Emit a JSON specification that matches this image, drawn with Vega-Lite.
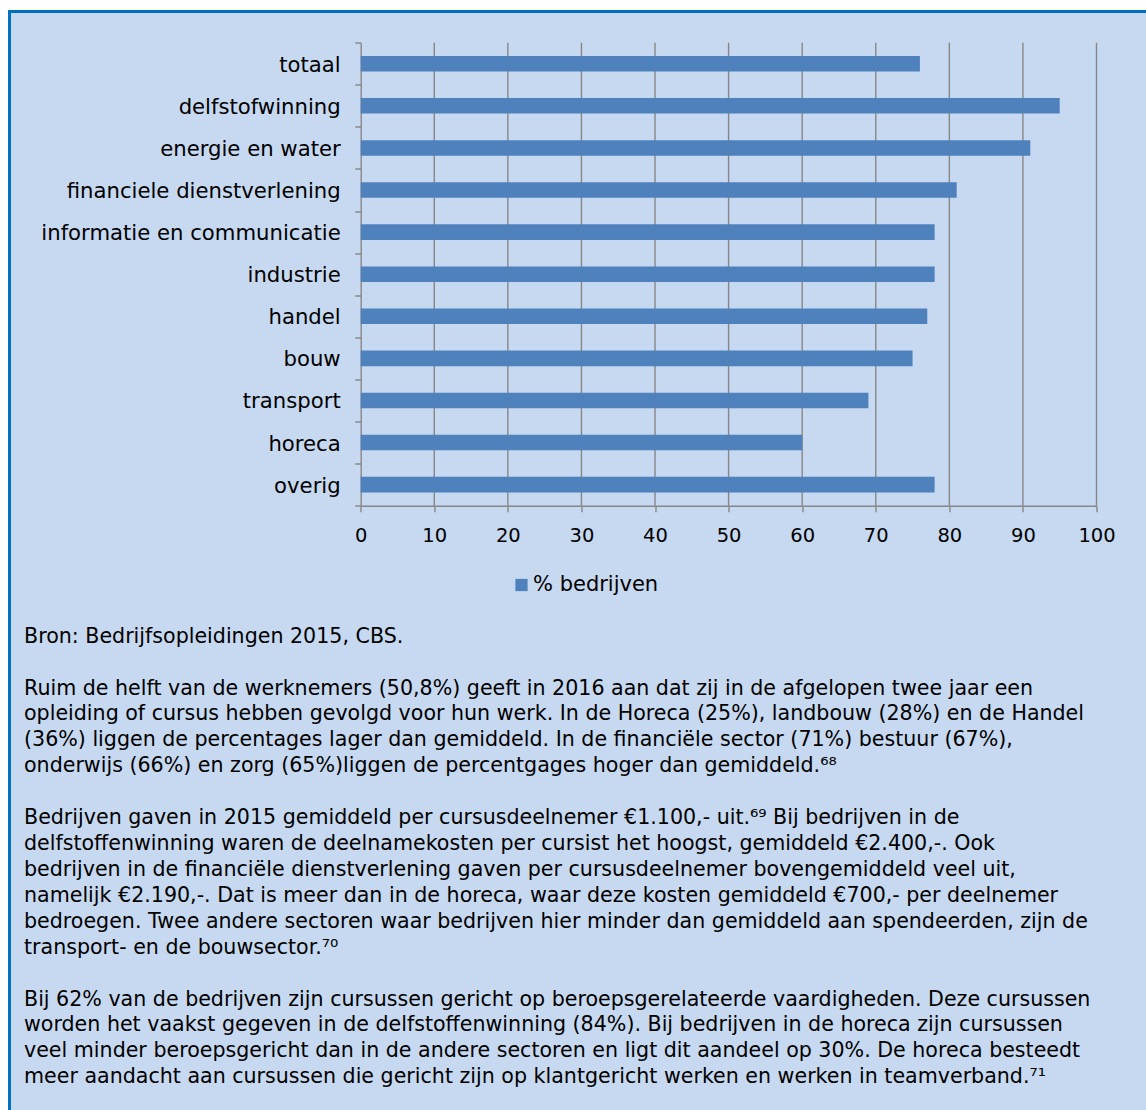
{
  "$schema": "https://vega.github.io/schema/vega-lite/v6.json",
  "width": 1136.5,
  "height": 1098.5,
  "autosize": {"type": "none"},
  "padding": {"left": 9.5, "top": 11.5, "right": 0, "bottom": 0},
  "background": "white",
  "config": {
    "font": "DejaVu Sans",
    "view": {"fill": "#c6d9f1", "stroke": "#0070c0", "strokeWidth": 3, "strokeDash": [1136.5, 2235, 1098.5]}
  },
  "datasets": {
    "sectors": [
      {"sector": "totaal", "pct": 76, "reeks": "% bedrijven"},
      {"sector": "delfstofwinning", "pct": 95, "reeks": "% bedrijven"},
      {"sector": "energie en water", "pct": 91, "reeks": "% bedrijven"},
      {"sector": "financiele dienstverlening", "pct": 81, "reeks": "% bedrijven"},
      {"sector": "informatie en communicatie", "pct": 78, "reeks": "% bedrijven"},
      {"sector": "industrie", "pct": 78, "reeks": "% bedrijven"},
      {"sector": "handel", "pct": 77, "reeks": "% bedrijven"},
      {"sector": "bouw", "pct": 75, "reeks": "% bedrijven"},
      {"sector": "transport", "pct": 69, "reeks": "% bedrijven"},
      {"sector": "horeca", "pct": 60, "reeks": "% bedrijven"},
      {"sector": "overig", "pct": 78, "reeks": "% bedrijven"}
    ],
    "grid": [
      {"pct": 10}, {"pct": 20}, {"pct": 30}, {"pct": 40}, {"pct": 50},
      {"pct": 60}, {"pct": 70}, {"pct": 80}, {"pct": 90}, {"pct": 100}
    ],
    "lines": [
      {"n": 0, "t": "Bron: Bedrijfsopleidingen 2015, CBS."},
      {"n": 2, "t": "Ruim de helft van de werknemers (50,8%) geeft in 2016 aan dat zij in de afgelopen twee jaar een"},
      {"n": 3, "t": "opleiding of cursus hebben gevolgd voor hun werk. In de Horeca (25%), landbouw (28%) en de Handel"},
      {"n": 4, "t": "(36%) liggen de percentages lager dan gemiddeld. In de financiële sector (71%) bestuur (67%),"},
      {"n": 5, "t": "onderwijs (66%) en zorg (65%)liggen de percentgages hoger dan gemiddeld.⁶⁸"},
      {"n": 7, "t": "Bedrijven gaven in 2015 gemiddeld per cursusdeelnemer €1.100,- uit.⁶⁹ Bij bedrijven in de"},
      {"n": 8, "t": "delfstoffenwinning waren de deelnamekosten per cursist het hoogst, gemiddeld €2.400,-. Ook"},
      {"n": 9, "t": "bedrijven in de financiële dienstverlening gaven per cursusdeelnemer bovengemiddeld veel uit,"},
      {"n": 10, "t": "namelijk €2.190,-. Dat is meer dan in de horeca, waar deze kosten gemiddeld €700,- per deelnemer"},
      {"n": 11, "t": "bedroegen. Twee andere sectoren waar bedrijven hier minder dan gemiddeld aan spendeerden, zijn de"},
      {"n": 12, "t": "transport- en de bouwsector.⁷⁰"},
      {"n": 14, "t": "Bij 62% van de bedrijven zijn cursussen gericht op beroepsgerelateerde vaardigheden. Deze cursussen"},
      {"n": 15, "t": "worden het vaakst gegeven in de delfstoffenwinning (84%). Bij bedrijven in de horeca zijn cursussen"},
      {"n": 16, "t": "veel minder beroepsgericht dan in de andere sectoren en ligt dit aandeel op 30%. De horeca besteedt"},
      {"n": 17, "t": "meer aandacht aan cursussen die gericht zijn op klantgericht werken en werken in teamverband.⁷¹"}
    ]
  },
  "layer": [
    {
      "data": {"name": "grid"},
      "mark": {"type": "rule", "color": "#878787", "strokeWidth": 1.4},
      "encoding": {
        "x": {"field": "pct", "type": "quantitative", "scale": {"domain": [0, 100], "range": [351.2, 1087]}, "axis": null},
        "y": {"datum": 0, "type": "quantitative", "scale": {"domain": [0, 1], "range": [31.2, 494.2]}, "axis": null},
        "y2": {"datum": 1}
      }
    },
    {
      "data": {"name": "sectors"},
      "mark": {"type": "bar", "height": {"band": 0.37}},
      "encoding": {
        "y": {
          "field": "sector", "type": "nominal", "sort": null,
          "scale": {"range": [31.2, 494.2], "paddingInner": 0, "paddingOuter": 0},
          "axis": {
            "title": null, "offset": -351.2, "grid": false,
            "domainColor": "#878787", "domainWidth": 1.4,
            "tickColor": "#878787", "tickWidth": 1.4, "tickSize": 6, "tickBand": "extent",
            "labelFont": "DejaVu Sans", "labelFontSize": 21.2, "labelColor": "#000000", "labelPadding": 14.5,
            "labelLimit": 400, "labelOffset": 1.5
          }
        },
        "x": {
          "field": "pct", "type": "quantitative",
          "scale": {"domain": [0, 100], "range": [351.2, 1087]},
          "axis": {
            "title": null, "offset": -604.3, "grid": false, "values": [0, 10, 20, 30, 40, 50, 60, 70, 80, 90, 100],
            "domainColor": "#878787", "domainWidth": 1.4,
            "tickColor": "#878787", "tickWidth": 1.4, "tickSize": 6,
            "labelFont": "DejaVu Sans", "labelFontSize": 19.5, "labelColor": "#000000", "labelPadding": 15, "labelFlush": false
          }
        },
        "color": {
          "field": "reeks", "type": "nominal",
          "scale": {"range": ["#4f81bd"]},
          "legend": {
            "orient": "none", "legendX": 501.5, "legendY": 563, "title": null, "padding": 0,
            "symbolType": "square", "symbolSize": 150, "symbolStrokeWidth": 0,
            "labelFont": "DejaVu Sans", "labelFontSize": 21, "labelColor": "#000000", "labelOffset": 1
          }
        }
      }
    },
    {
      "data": {"name": "lines"},
      "mark": {"type": "text", "align": "left", "baseline": "alphabetic", "fontSize": 20.6, "color": "#000000", "font": "DejaVu Sans"},
      "encoding": {
        "y": {"field": "n", "type": "quantitative", "scale": {"domain": [0, 17], "range": [631.2, 1071.8]}, "axis": null},
        "x": {"datum": 0, "type": "quantitative", "scale": {"domain": [0, 1], "range": [14.5, 1130]}, "axis": null},
        "text": {"field": "t"}
      }
    }
  ],
  "resolve": {"scale": {"x": "independent", "y": "independent"}}
}
